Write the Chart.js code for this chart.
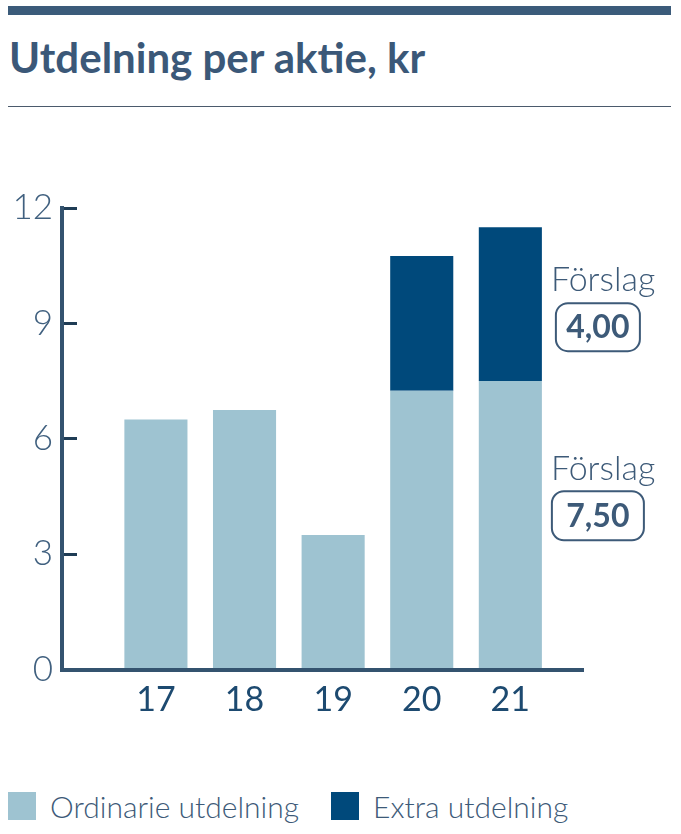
<!DOCTYPE html>
<html><head><meta charset="utf-8">
<script src="https://cdn.jsdelivr.net/npm/chart.js@4"></script>
<style>
html,body{margin:0;padding:0;background:#fff;}
body{width:681px;height:834px;position:relative;overflow:hidden;font-family:Lato,sans-serif;}
#topbar{position:absolute;left:8px;top:6px;width:663px;height:9px;background:#3b5b7a;}
#title{position:absolute;left:9px;top:32px;margin:0;font-family:Lato;font-weight:700;font-size:42px;line-height:50px;color:#3b5878;white-space:nowrap;}
#rule{position:absolute;left:8px;top:106px;width:663px;height:1px;background:#4b5a6c;}
#wrap{position:absolute;left:0;top:120px;width:681px;height:640px;}
#legend{position:absolute;left:8px;top:790px;height:32px;display:flex;align-items:center;font-family:Lato;font-weight:300;font-size:30px;color:#3d5a78;white-space:nowrap;}
.sw{display:inline-block;width:28px;height:28px;margin-right:14px;}
.item{display:flex;align-items:center;margin-right:32px;}
</style></head>
<body>
<div id="topbar"></div>
<h1 id="title">Utdelning per aktie, kr</h1>
<div id="rule"></div>
<div id="wrap"><canvas id="c"></canvas></div>
<div id="legend"></div>
<script>
const years = ['17', '18', '19', '20', '21'];
const ordinary = [6.5, 6.75, 3.5, 7.25, 7.5];
const extra = [null, null, null, 3.5, 4.0];
const seriesNames = ['Ordinarie utdelning', 'Extra utdelning'];
const seriesColors = ['#9ec3d1', '#00497b'];
const yTicks = [0, 3, 6, 9, 12];
const noteLabel = 'Förslag';

const fmt = v => v.toFixed(2).replace('.', ',');
const last = years.length - 1;
const notes = [
  { text: fmt(extra[last]), at: ordinary[last] + extra[last] / 2, labelDy: -13, boxDy: -1, boxW: 84, boxH: 48 },
  { text: fmt(ordinary[last]), at: ordinary[last] / 2, labelDy: -45, boxDy: -34, boxW: 92, boxH: 49 }
];

const annotPlugin = {
  id: 'annot',
  afterDatasetsDraw(chart) {
    const ctx = chart.ctx, ys = chart.scales.y;
    const bar = chart.getDatasetMeta(0).data[last];
    const right = bar.x + bar.width / 2;
    ctx.save();
    notes.forEach(n => {
      const a = ys.getPixelForValue(n.at);
      ctx.fillStyle = '#3d5a78';
      ctx.font = '300 34px Lato';
      ctx.textAlign = 'left';
      ctx.textBaseline = 'alphabetic';
      ctx.fillText(noteLabel, right + 9, a + n.labelDy);
      const cx = right + 56;
      const top = a + n.boxDy;
      ctx.beginPath();
      ctx.roundRect(cx - n.boxW / 2, top, n.boxW, n.boxH, 12);
      ctx.lineWidth = 2;
      ctx.strokeStyle = '#3d5a78';
      ctx.stroke();
      ctx.font = '700 32px Lato';
      ctx.textAlign = 'center';
      ctx.textBaseline = 'middle';
      ctx.fillText(n.text, cx, top + n.boxH / 2 + 1);
    });
    ctx.restore();
  }
};

const chart = new Chart(document.getElementById('c'), {
  type: 'bar',
  data: {
    datasets: [
      { label: seriesNames[0], data: years.map((y, i) => ({ x: +y, y: ordinary[i] })), backgroundColor: seriesColors[0] },
      { label: seriesNames[1], data: years.map((y, i) => ({ x: +y, y: extra[i] })), backgroundColor: seriesColors[1] }
    ]
  },
  options: {
    responsive: true,
    maintainAspectRatio: false,
    animation: false,
    categoryPercentage: 1,
    barPercentage: 0.712,
    layout: { padding: { top: 88, right: 98, bottom: 0, left: 0 } },
    plugins: { legend: { display: false }, tooltip: { enabled: false } },
    scales: {
      x: {
        type: 'linear',
        stacked: true,
        offset: false,
        min: +years[0] - 1.06,
        max: +years[last] + 0.82,
        afterBuildTicks: s => { s.ticks = years.map(v => ({ value: +v })); },
        afterFit: s => { s.height = 90.5; },
        grid: { display: false, drawTicks: false },
        border: { display: true, color: '#34536f', width: 4, z: 1 },
        ticks: { padding: 10, color: '#1d4a70', font: { family: 'Lato', size: 34, weight: 400 }, callback: v => String(v) }
      },
      y: {
        stacked: true,
        min: yTicks[0],
        max: yTicks[yTicks.length - 1],
        afterBuildTicks: s => { s.ticks = yTicks.map(v => ({ value: v })); },
        afterFit: s => { s.width = 62; },
        grid: { display: true, drawOnChartArea: false, drawTicks: true, tickLength: -15, tickWidth: 3, tickColor: '#1f3c55' },
        border: { display: true, color: '#34536f', width: 4, z: 1 },
        ticks: { padding: 24, color: '#40607f', font: { family: 'Lato', size: 35, weight: 300 } }
      }
    }
  },
  plugins: [annotPlugin]
});

const leg = document.getElementById('legend');
chart.data.datasets.forEach(ds => {
  const it = document.createElement('div'); it.className = 'item';
  const sw = document.createElement('span'); sw.className = 'sw'; sw.style.background = ds.backgroundColor;
  const tx = document.createElement('span'); tx.textContent = ds.label;
  it.appendChild(sw); it.appendChild(tx); leg.appendChild(it);
});
</script>
</body></html>
